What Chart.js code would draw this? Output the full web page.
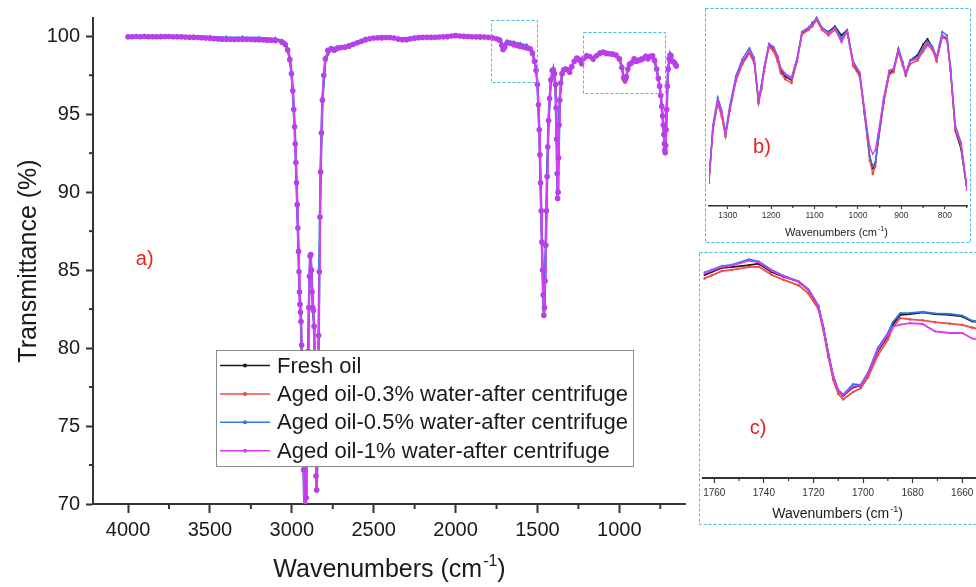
<!DOCTYPE html>
<html>
<head>
<meta charset="utf-8">
<script src="https://cdn.jsdelivr.net/npm/chart.js@4.4.1/dist/chart.umd.min.js"></script>
<style>
  html, body { margin: 0; padding: 0; background: #fff; overflow: hidden; }
  #wrap { position: relative; width: 976px; height: 587px; overflow: hidden; }
  canvas { position: absolute; }
</style>
</head>
<body>
<div id="wrap">
  <canvas id="mainChart" width="976" height="587" style="left:0;top:0"></canvas>
  <canvas id="insetB" width="266" height="235" style="left:705px;top:8px"></canvas>
  <canvas id="insetC" width="292" height="273" style="left:699px;top:252px"></canvas>
</div>
<script>
// ---- series names / colours ----
const seriesLabels = ["Fresh oil", "Aged oil-0.3% water-after centrifuge",
                      "Aged oil-0.5% water-after centrifuge", "Aged oil-1% water-after centrifuge"];
const seriesColors = ["#1a1a1a", "#f04a4a", "#2f76e0", "#d63cf2"];

// ---- main spectrum (a) ----
const xTicksMain = [4000, 3500, 3000, 2500, 2000, 1500, 1000];
const xMinorMain = [3750, 3250, 2750, 2250, 1750, 1250, 750];
const yTicksMain = [70, 75, 80, 85, 90, 95, 100];
const yMinorMain = [72.5, 77.5, 82.5, 87.5, 92.5, 97.5];

// wavenumbers of the 1% water trace (dense)
const wnMain = [
  4000, 3975, 3950, 3925, 3900, 3875, 3850, 3825, 3800, 3775,
  3750, 3725, 3700, 3675, 3650, 3625, 3600, 3575, 3550, 3525,
  3500, 3475, 3450, 3425, 3400, 3375, 3350, 3325, 3300, 3275,
  3250, 3225, 3200, 3175, 3150, 3125, 3100, 3060, 3040, 3025,
  3012, 3002, 2994, 2988, 2983, 2979, 2975, 2971, 2967, 2963,
  2959, 2956, 2953, 2950, 2947, 2944, 2940, 2936, 2932, 2928,
  2924, 2920, 2916, 2912, 2908, 2904, 2900, 2896, 2892, 2888,
  2884, 2880, 2876, 2872, 2868, 2864, 2860, 2856, 2852, 2848,
  2844, 2840, 2836, 2832, 2828, 2824, 2819, 2813, 2805, 2795,
  2780, 2760, 2740, 2720, 2700, 2675, 2650, 2625, 2600, 2575,
  2550, 2525, 2500, 2475, 2450, 2425, 2400, 2375, 2350, 2325,
  2300, 2275, 2250, 2225, 2200, 2175, 2150, 2125, 2100, 2075,
  2050, 2025, 2000, 1975, 1950, 1925, 1900, 1875, 1850, 1825,
  1800, 1775, 1750, 1730, 1718, 1710, 1700, 1685, 1665, 1645,
  1625, 1605, 1585, 1565, 1545, 1530, 1518, 1508, 1500, 1494,
  1489, 1485, 1481, 1477, 1473, 1469, 1465, 1461, 1457, 1453,
  1449, 1445, 1441, 1437, 1432, 1426, 1418, 1410, 1403, 1396,
  1390, 1386, 1383, 1380, 1377, 1374, 1371, 1368, 1364, 1358,
  1350, 1340, 1328, 1315, 1303, 1290, 1275, 1260, 1245, 1230,
  1215, 1200, 1180, 1160, 1140, 1120, 1100, 1080, 1060, 1040,
  1020, 1000, 985, 973, 965, 957, 948, 938, 925, 910,
  897, 885, 870, 855, 840, 825, 810, 797, 785, 772,
  762, 754, 747, 741, 736, 732, 728, 725, 722, 720,
  717, 714, 711, 707, 702, 696, 690, 684, 676, 668,
  660, 652
];
const aged10Main = [
  99.97, 99.97, 99.98, 99.97, 99.98, 99.97, 99.97, 99.97, 99.97, 99.98,
  99.98, 99.97, 99.97, 99.96, 99.95, 99.94, 99.93, 99.92, 99.90, 99.88,
  99.87, 99.85, 99.83, 99.81, 99.80, 99.80, 99.79, 99.80, 99.80, 99.80,
  99.79, 99.78, 99.77, 99.76, 99.75, 99.74, 99.72, 99.62, 99.47, 99.12,
  98.50, 97.60, 96.50, 95.30, 94.20, 93.10, 91.90, 90.60, 89.20, 87.70,
  86.20, 84.90, 83.60, 82.80, 82.30, 81.70, 80.20, 77.80, 75.00, 72.20,
  69.60, 68.00, 68.40, 70.40, 73.30, 76.60, 79.80, 82.60, 84.60, 85.90,
  86.00, 85.00, 83.60, 82.60, 82.40, 81.40, 78.60, 75.00, 71.80, 70.90,
  72.60, 76.40, 80.80, 84.90, 88.40, 91.30, 93.80, 95.90, 97.50, 98.55,
  99.10, 99.20, 99.10, 99.24, 99.28, 99.30, 99.38, 99.48, 99.58, 99.68,
  99.78, 99.84, 99.88, 99.90, 99.91, 99.92, 99.92, 99.88, 99.82, 99.78,
  99.78, 99.84, 99.88, 99.91, 99.93, 99.93, 99.93, 99.94, 99.95, 99.96,
  99.98, 100.01, 100.04, 100.01, 99.99, 99.98, 99.97, 99.96, 99.96, 99.95,
  99.93, 99.90, 99.84, 99.74, 99.42, 99.15, 99.30, 99.58, 99.55, 99.45,
  99.40, 99.35, 99.30, 99.25, 99.20, 98.90, 98.40, 97.80, 96.90, 95.60,
  94.00, 92.40, 90.60, 88.80, 86.80, 85.00, 83.40, 82.10, 82.60, 84.30,
  86.60, 88.80, 91.00, 92.90, 94.60, 96.00, 97.20, 97.80, 97.85, 97.60,
  96.90, 95.40, 93.40, 91.20, 89.60, 90.00, 92.20, 94.30, 95.90, 97.00,
  97.60, 97.85, 97.90, 97.85, 97.70, 98.05, 98.40, 98.60, 98.50, 98.25,
  98.60, 98.75, 98.70, 98.55, 98.75, 98.90, 98.98, 98.90, 98.88, 98.85,
  98.80, 98.55, 98.00, 97.35, 97.20, 97.40, 97.90, 98.20, 98.30, 98.55,
  98.40, 98.45, 98.50, 98.55, 98.70, 98.55, 98.70, 98.75, 98.45, 97.90,
  97.30, 96.80, 96.20, 95.50, 94.90, 94.30, 93.70, 93.10, 92.70, 92.55,
  93.00, 94.00, 95.30, 96.80, 97.90, 98.55, 98.80, 98.75, 98.40, 98.35,
  98.25, 98.10
];

// wavenumbers of the other three traces (they sit under the 1% trace)
const wnOther = [
  4000, 3900, 3800, 3700, 3600, 3500, 3400, 3300, 3200, 3100,
  3060, 3040, 3025, 3012, 3002, 2994, 2983, 2975, 2967, 2959,
  2953, 2947, 2944, 2936, 2928, 2920, 2912, 2904, 2896, 2888,
  2880, 2872, 2864, 2856, 2848, 2840, 2832, 2824, 2813, 2795,
  2760, 2720, 2650, 2550, 2450, 2350, 2250, 2150, 2050, 1950,
  1850, 1775, 1730, 1718, 1710, 1700, 1685, 1645, 1605, 1565,
  1530, 1508, 1500, 1489, 1481, 1473, 1465, 1461, 1457, 1449,
  1441, 1432, 1418, 1403, 1390, 1383, 1377, 1371, 1364, 1350,
  1328, 1303, 1275, 1245, 1230, 1200, 1160, 1120, 1080, 1040,
  1000, 985, 973, 965, 957, 948, 925, 897, 870, 840,
  810, 785, 762, 747, 736, 728, 722, 720, 717, 711,
  702, 690, 676, 660, 652
];
const freshMain = [
  99.97, 99.98, 99.98, 99.97, 99.94, 99.89, 99.84, 99.84, 99.81, 99.76,
  99.62, 99.47, 99.12, 98.50, 97.60, 96.50, 94.20, 91.90, 89.20, 86.20,
  83.60, 82.30, 81.70, 77.80, 72.20, 68.00, 70.40, 76.60, 82.60, 85.90,
  85.00, 82.60, 81.40, 75.00, 70.90, 76.40, 84.90, 91.30, 95.90, 98.50,
  99.18, 99.22, 99.37, 99.77, 99.90, 99.82, 99.87, 99.92, 99.97, 99.98,
  99.95, 99.90, 99.75, 99.45, 99.20, 99.35, 99.62, 99.52, 99.42, 99.32,
  98.95, 97.85, 96.95, 94.00, 90.60, 86.80, 83.40, 82.10, 82.60, 86.60,
  91.00, 94.60, 97.20, 97.85, 96.90, 93.40, 89.60, 92.20, 95.90, 97.60,
  97.90, 97.70, 98.40, 98.50, 98.25, 98.75, 98.55, 98.90, 98.90, 98.85,
  98.55, 98.00, 97.30, 97.15, 97.35, 97.90, 98.30, 98.40, 98.50, 98.72,
  98.70, 98.45, 97.30, 96.20, 94.90, 93.70, 92.70, 92.55, 93.00, 95.30,
  97.90, 98.80, 98.40, 98.25, 98.10
];
const aged03Main = [
  99.95, 99.96, 99.96, 99.95, 99.92, 99.87, 99.82, 99.82, 99.79, 99.74,
  99.60, 99.45, 99.10, 98.48, 97.58, 96.48, 94.18, 91.88, 89.18, 86.18,
  83.58, 82.28, 81.68, 77.78, 72.18, 67.98, 70.38, 76.58, 82.58, 85.88,
  84.98, 82.58, 81.38, 74.98, 70.88, 76.38, 84.88, 91.28, 95.88, 98.48,
  99.15, 99.18, 99.33, 99.74, 99.87, 99.79, 99.84, 99.89, 99.94, 99.95,
  99.92, 99.86, 99.70, 99.38, 99.12, 99.28, 99.55, 99.46, 99.37, 99.27,
  98.90, 97.80, 96.90, 93.96, 90.56, 86.76, 83.36, 82.06, 82.56, 86.56,
  90.96, 94.56, 97.16, 97.82, 96.86, 93.36, 89.56, 92.16, 95.86, 97.56,
  97.86, 97.66, 98.36, 98.46, 98.20, 98.70, 98.48, 98.86, 98.86, 98.80,
  98.50, 97.95, 97.22, 97.08, 97.28, 97.85, 98.26, 98.36, 98.46, 98.68,
  98.66, 98.40, 97.25, 96.15, 94.85, 93.65, 92.65, 92.50, 92.95, 95.25,
  97.86, 98.76, 98.36, 98.20, 98.05
];
const aged05Main = [
  100.00, 100.01, 100.01, 100.00, 99.98, 99.95, 99.91, 99.91, 99.88, 99.83,
  99.70, 99.55, 99.18, 98.56, 97.66, 96.56, 94.26, 91.96, 89.26, 86.26,
  83.66, 82.36, 81.76, 77.86, 72.26, 68.06, 70.46, 76.66, 82.66, 85.96,
  85.06, 82.66, 81.46, 75.06, 70.96, 76.46, 84.96, 91.36, 95.96, 98.56,
  99.24, 99.28, 99.42, 99.82, 99.94, 99.86, 99.91, 99.95, 100.00, 100.02,
  99.98, 99.93, 99.80, 99.52, 99.26, 99.42, 99.68, 99.60, 99.50, 99.40,
  99.02, 97.92, 97.00, 94.05, 90.65, 86.85, 83.45, 82.15, 82.65, 86.65,
  91.05, 94.65, 97.25, 97.90, 96.95, 93.45, 89.65, 92.25, 95.95, 97.65,
  97.95, 97.75, 98.45, 98.55, 98.30, 98.80, 98.60, 98.95, 98.95, 98.90,
  98.60, 98.05, 97.32, 97.20, 97.40, 97.95, 98.35, 98.45, 98.55, 98.76,
  98.75, 98.50, 97.35, 96.25, 94.95, 93.75, 92.75, 92.60, 93.05, 95.35,
  97.95, 98.85, 98.45, 98.30, 98.15
];
// zoom boxes drawn on the main plot: [wnLeft, wnRight, top, bottom]
const zoomBoxes = [[1784, 1502, 101.05, 97.08], [1222, 724, 100.25, 96.33]];

// ---- inset b (1343-749 cm-1) ----
const xTicksB = [1300, 1200, 1100, 1000, 900, 800];
const xMinorB = [1250, 1150, 1050, 950, 850, 750];
const wnB = [
  1343, 1334, 1323, 1314, 1305, 1295, 1281, 1266, 1250, 1239,
  1229, 1222, 1216, 1205, 1194, 1185, 1178, 1167, 1153, 1140,
  1129, 1114, 1105, 1095, 1083, 1068, 1053, 1038, 1025, 1011,
  996, 985, 973, 966, 960, 954, 941, 928, 918, 907,
  897, 890, 880, 863, 850, 840, 829, 819, 806, 795,
  787, 776, 763, 749
];
const freshB = [
  97.04, 97.62, 97.92, 97.79, 97.55, 97.84, 98.17, 98.36, 98.48, 98.38,
  97.92, 98.09, 98.28, 98.55, 98.51, 98.41, 98.27, 98.20, 98.16, 98.39,
  98.68, 98.73, 98.80, 98.84, 98.73, 98.70, 98.76, 98.66, 98.72, 98.34,
  98.22, 97.80, 97.30, 97.18, 97.24, 97.46, 97.92, 98.24, 98.27, 98.49,
  98.34, 98.23, 98.38, 98.44, 98.56, 98.62, 98.53, 98.39, 98.65, 98.62,
  98.27, 97.60, 97.40, 96.94
];
const aged03B = [
  97.02, 97.60, 97.90, 97.76, 97.53, 97.82, 98.15, 98.34, 98.46, 98.35,
  97.90, 98.06, 98.26, 98.53, 98.48, 98.37, 98.24, 98.17, 98.13, 98.37,
  98.67, 98.72, 98.76, 98.83, 98.72, 98.66, 98.72, 98.61, 98.69, 98.32,
  98.20, 97.78, 97.27, 97.12, 97.20, 97.45, 97.90, 98.22, 98.25, 98.47,
  98.32, 98.21, 98.34, 98.38, 98.48, 98.55, 98.50, 98.37, 98.64, 98.61,
  98.27, 97.61, 97.43, 96.94
];
const aged05B = [
  97.06, 97.66, 97.97, 97.83, 97.58, 97.88, 98.21, 98.40, 98.52, 98.41,
  97.94, 98.12, 98.31, 98.57, 98.53, 98.43, 98.30, 98.23, 98.19, 98.41,
  98.70, 98.75, 98.79, 98.86, 98.75, 98.69, 98.75, 98.63, 98.72, 98.37,
  98.25, 97.82, 97.32, 97.20, 97.25, 97.48, 97.94, 98.27, 98.29, 98.52,
  98.37, 98.22, 98.38, 98.42, 98.52, 98.59, 98.54, 98.42, 98.70, 98.66,
  98.31, 97.66, 97.47, 96.96
];
const aged10B = [
  97.05, 97.63, 97.93, 97.80, 97.56, 97.85, 98.18, 98.37, 98.49, 98.39,
  97.93, 98.10, 98.29, 98.56, 98.52, 98.42, 98.29, 98.22, 98.18, 98.40,
  98.69, 98.74, 98.78, 98.85, 98.74, 98.68, 98.74, 98.58, 98.71, 98.35,
  98.24, 97.84, 97.42, 97.34, 97.38, 97.55, 97.96, 98.26, 98.28, 98.50,
  98.35, 98.24, 98.37, 98.40, 98.50, 98.57, 98.52, 98.40, 98.66, 98.63,
  98.29, 97.63, 97.45, 96.95
];

// ---- inset c (1764-1650 cm-1) ----
const xTicksC = [1760, 1740, 1720, 1700, 1680, 1660];
const xMinorC = [1750, 1730, 1710, 1690, 1670, 1650];
const wnC = [
  1764, 1761, 1757, 1753, 1746, 1742, 1737, 1732, 1726, 1722,
  1718, 1716, 1714, 1712, 1710, 1708, 1704, 1701, 1698, 1694,
  1690, 1688, 1685, 1681, 1676, 1671, 1665, 1660, 1656, 1652
];
const freshC = [
  99.756, 99.773, 99.795, 99.800, 99.810, 99.818, 99.773, 99.747, 99.720, 99.675,
  99.585, 99.468, 99.325, 99.199, 99.127, 99.100, 99.145, 99.154, 99.217, 99.343,
  99.423, 99.486, 99.540, 99.544, 99.554, 99.544, 99.540, 99.531, 99.504, 99.500
];
const aged03C = [
  99.738, 99.755, 99.778, 99.784, 99.800, 99.802, 99.758, 99.730, 99.700, 99.655,
  99.570, 99.455, 99.310, 99.185, 99.110, 99.080, 99.120, 99.140, 99.200, 99.320,
  99.405, 99.470, 99.522, 99.515, 99.510, 99.500, 99.492, 99.485, 99.470, 99.460
];
const aged05C = [
  99.770, 99.785, 99.805, 99.812, 99.842, 99.830, 99.785, 99.752, 99.722, 99.678,
  99.590, 99.470, 99.330, 99.205, 99.130, 99.106, 99.163, 99.158, 99.225, 99.360,
  99.440, 99.500, 99.549, 99.550, 99.556, 99.548, 99.545, 99.536, 99.508, 99.500
];
const aged10C = [
  99.765, 99.780, 99.800, 99.808, 99.835, 99.825, 99.780, 99.750, 99.720, 99.676,
  99.588, 99.470, 99.328, 99.203, 99.130, 99.104, 99.150, 99.156, 99.220, 99.350,
  99.430, 99.475, 99.486, 99.495, 99.490, 99.450, 99.441, 99.441, 99.411, 99.400
];

// ---------------------------------------------------------------
const FONT = '"Liberation Sans", Arial, Helvetica, sans-serif';
const TEXT = "#1a1a1a";
const AXIS = "#333333";
const BOX = "#45b9e2";
Chart.defaults.font.family = FONT;
Chart.defaults.color = TEXT;

function pts(xs, ys) { return xs.map((x, i) => ({ x: x, y: ys[i] })); }
const plainNum = v => String(v);

function wavenumTitle(ctx, cx, cy, size) {
  const a = "Wavenumbers (cm", sup = "-1", b = ")";
  const supSize = Math.round(size * 0.62);
  ctx.font = size + "px " + FONT;
  const wa = ctx.measureText(a).width, wb = ctx.measureText(b).width;
  ctx.font = supSize + "px " + FONT;
  const ws = ctx.measureText(sup).width;
  let x = cx - (wa + ws + wb) / 2;
  ctx.fillStyle = TEXT;
  ctx.textAlign = "left";
  ctx.textBaseline = "middle";
  ctx.font = size + "px " + FONT;
  ctx.fillText(a, x, cy); x += wa;
  ctx.font = supSize + "px " + FONT;
  ctx.fillText(sup, x + 1, cy - size * 0.33); x += ws + 1;
  ctx.font = size + "px " + FONT;
  ctx.fillText(b, x, cy);
}

function minorTicksX(chart, vals, len, width) {
  const s = chart.scales.x, ctx = chart.ctx, y0 = chart.chartArea.bottom;
  ctx.save();
  ctx.strokeStyle = AXIS; ctx.lineWidth = width;
  vals.forEach(v => {
    const px = s.getPixelForValue(v);
    if (px < chart.chartArea.left - 0.5 || px > chart.chartArea.right + 0.5) return;
    ctx.beginPath(); ctx.moveTo(px, y0); ctx.lineTo(px, y0 + len); ctx.stroke();
  });
  ctx.restore();
}

function minorTicksY(chart, vals, len, width) {
  const s = chart.scales.y, ctx = chart.ctx, x0 = chart.chartArea.left;
  ctx.save();
  ctx.strokeStyle = AXIS; ctx.lineWidth = width;
  vals.forEach(v => {
    const py = s.getPixelForValue(v);
    ctx.beginPath(); ctx.moveTo(x0, py); ctx.lineTo(x0 - len, py); ctx.stroke();
  });
  ctx.restore();
}

function redLabel(ctx, text, x, y, size) {
  ctx.save();
  ctx.fillStyle = "#e8231f";
  ctx.font = size + "px " + FONT;
  ctx.textAlign = "center"; ctx.textBaseline = "middle";
  ctx.fillText(text, x, y);
  ctx.restore();
}

// ---- main chart ----
const mainDecor = {
  id: "mainDecor",
  afterDatasetsDraw(chart) {
    const ctx = chart.ctx, sx = chart.scales.x, sy = chart.scales.y;
    // dashed zoom boxes
    ctx.save();
    ctx.strokeStyle = BOX; ctx.lineWidth = 1; ctx.setLineDash([3, 2]);
    zoomBoxes.forEach(b => {
      const x1 = sx.getPixelForValue(b[0]), x2 = sx.getPixelForValue(b[1]);
      const y1 = sy.getPixelForValue(b[2]), y2 = sy.getPixelForValue(b[3]);
      ctx.strokeRect(Math.round(x1) + 0.5, Math.round(y1) + 0.5, Math.round(x2 - x1), Math.round(y2 - y1));
    });
    ctx.restore();

    // legend
    ctx.save();
    ctx.fillStyle = "#fff";
    ctx.fillRect(217, 351, 417, 116);
    ctx.strokeStyle = "#8c8c8c"; ctx.lineWidth = 1;
    ctx.strokeRect(216.5, 350.5, 417, 116);
    ctx.font = "22px " + FONT;
    ctx.textAlign = "left"; ctx.textBaseline = "middle";
    seriesLabels.forEach((lab, i) => {
      const y = 365.5 + i * 28.4;
      ctx.strokeStyle = seriesColors[i]; ctx.lineWidth = 1.5;
      ctx.beginPath(); ctx.moveTo(220, y); ctx.lineTo(270, y); ctx.stroke();
      ctx.fillStyle = seriesColors[i];
      ctx.beginPath(); ctx.arc(245, y, 2, 0, Math.PI * 2); ctx.fill();
      ctx.fillStyle = TEXT;
      ctx.fillText(lab, 277, y + 1);
    });
    ctx.restore();

    redLabel(ctx, "a)", sx.getPixelForValue(3898), sy.getPixelForValue(85.7), 20);
  },
  afterDraw(chart) {
    const ctx = chart.ctx, ca = chart.chartArea;
    minorTicksX(chart, xMinorMain, 5, 2);
    minorTicksY(chart, yMinorMain, 4, 2);
    ctx.save();
    wavenumTitle(ctx, (ca.left + ca.right) / 2, 570, 25);
    ctx.translate(29, (ca.top + ca.bottom) / 2);
    ctx.rotate(-Math.PI / 2);
    ctx.font = "25px " + FONT;
    ctx.fillStyle = TEXT; ctx.textAlign = "center"; ctx.textBaseline = "middle";
    ctx.fillText("Transmittance (%)", 0, 0);
    ctx.restore();
  }
};

new Chart(document.getElementById("mainChart"), {
  type: "line",
  data: {
    datasets: [
      { label: seriesLabels[0], data: pts(wnOther, freshMain), borderColor: seriesColors[0],
        backgroundColor: seriesColors[0], borderWidth: 1.5, pointRadius: 2, pointStyle: "rect",
        pointBorderWidth: 0, order: 4 },
      { label: seriesLabels[1], data: pts(wnOther, aged03Main), borderColor: seriesColors[1],
        backgroundColor: seriesColors[1], borderWidth: 1.5, pointRadius: 2.2, pointBorderWidth: 0, order: 3 },
      { label: seriesLabels[2], data: pts(wnOther, aged05Main), borderColor: seriesColors[2],
        backgroundColor: seriesColors[2], borderWidth: 2.5, pointRadius: 2.8, pointStyle: "triangle",
        pointBorderWidth: 0, order: 2 },
      { label: seriesLabels[3], data: pts(wnMain, aged10Main), borderColor: "#d640f4",
        backgroundColor: "#b83fe9", pointBackgroundColor: "#b83fe9", borderWidth: 2,
        pointRadius: 2.8, pointBorderWidth: 0, order: 1 }
    ]
  },
  options: {
    responsive: false, animation: false, devicePixelRatio: 1, events: [],
    layout: { padding: { left: 0, right: 291, top: 15, bottom: 0 } },
    elements: { line: { tension: 0 } },
    plugins: { legend: { display: false }, tooltip: { enabled: false } },
    scales: {
      x: {
        type: "linear", reverse: true, min: 599, max: 4214,
        afterBuildTicks: s => { s.ticks = xTicksMain.map(v => ({ value: v })); },
        afterFit: s => { s.height = 83; },
        grid: { drawOnChartArea: false, drawTicks: true, tickLength: 9, tickWidth: 2, tickColor: AXIS },
        border: { display: true, color: AXIS, width: 2 },
        ticks: { font: { size: 20 }, color: TEXT, padding: 5, maxRotation: 0, autoSkip: false, callback: plainNum }
      },
      y: {
        min: 70, max: 101.17,
        afterBuildTicks: s => { s.ticks = yTicksMain.map(v => ({ value: v })); },
        afterFit: s => { s.width = 93; },
        grid: { drawOnChartArea: false, drawTicks: true, tickLength: 7, tickWidth: 2, tickColor: AXIS },
        border: { display: true, color: AXIS, width: 2 },
        ticks: { font: { size: 20 }, color: TEXT, padding: 6, callback: plainNum }
      }
    }
  },
  plugins: [mainDecor]
});

// ---- insets ----
function makeInset(id, opt) {
  const decor = {
    id: "decor_" + id,
    afterDraw(chart) {
      const ctx = chart.ctx;
      minorTicksX(chart, opt.minor, opt.minorLen, 1.2);
      ctx.save();
      ctx.strokeStyle = BOX; ctx.lineWidth = 1; ctx.setLineDash([3, 2]);
      ctx.strokeRect(0.5, 0.5, opt.boxW, chart.height - 1);
      ctx.restore();
      wavenumTitle(ctx, opt.titleX, opt.titleY, opt.titleSize);
      redLabel(ctx, opt.tag, opt.tagX, opt.tagY, 20);
    }
  };
  const style = [
    { pointStyle: "rect", r: 1.3 },
    { pointStyle: "circle", r: 1.3 },
    { pointStyle: "triangle", r: 1.5 },
    { pointStyle: "triangle", r: 1.5, rot: 180 }
  ];
  return new Chart(document.getElementById(id), {
    type: "line",
    data: {
      datasets: opt.series.map((ys, i) => ({
        label: seriesLabels[i], data: pts(opt.xs, ys),
        borderColor: seriesColors[i], backgroundColor: seriesColors[i],
        borderWidth: opt.lineW, pointRadius: style[i].r, pointStyle: style[i].pointStyle,
        rotation: style[i].rot || 0, pointBorderWidth: 0, order: 4 - i
      }))
    },
    options: {
      responsive: false, animation: false, devicePixelRatio: 1, events: [],
      layout: { padding: opt.padding },
      elements: { line: { tension: 0 } },
      plugins: { legend: { display: false }, tooltip: { enabled: false } },
      scales: {
        x: {
          type: "linear", reverse: true, min: opt.xmin, max: opt.xmax,
          afterBuildTicks: s => { s.ticks = opt.ticks.map(v => ({ value: v })); },
          afterFit: s => { s.height = opt.axisH; },
          grid: { drawOnChartArea: false, drawTicks: true, tickLength: opt.tickLen, tickWidth: 1.2, tickColor: AXIS },
          border: { display: true, color: AXIS, width: opt.axisW },
          ticks: { font: { size: opt.tickSize }, color: "#333", padding: opt.tickPad,
                   maxRotation: 0, autoSkip: false, callback: plainNum }
        },
        y: { display: false, min: opt.ymin, max: opt.ymax }
      }
    },
    plugins: [decor]
  });
}

makeInset("insetB", {
  xs: wnB, series: [freshB, aged03B, aged05B, aged10B],
  xmin: 749, xmax: 1343, ymin: 96.76, ymax: 98.92,
  ticks: xTicksB, minor: xMinorB, minorLen: 2, tickLen: 3, axisW: 1.5,
  padding: { left: 1, right: 4, top: 2, bottom: 0 }, axisH: 37,
  tickSize: 8.5, tickPad: 2, lineW: 1.4,
  boxW: 265, titleX: 131, titleY: 225, titleSize: 11,
  tag: "b)", tagX: 57, tagY: 139
});

makeInset("insetC", {
  xs: wnC, series: [freshC, aged03C, aged05C, aged10C],
  xmin: 1650, xmax: 1764.4, ymin: 98.652, ymax: 99.86,
  ticks: xTicksC, minor: xMinorC, minorLen: 3, tickLen: 5, axisW: 2,
  padding: { left: 1, right: 3, top: 1, bottom: 0 }, axisH: 47,
  tickSize: 10, tickPad: 4, lineW: 1.8,
  boxW: 290, titleX: 138, titleY: 262, titleSize: 14,
  tag: "c)", tagX: 59, tagY: 176
});
</script>
</body>
</html>
